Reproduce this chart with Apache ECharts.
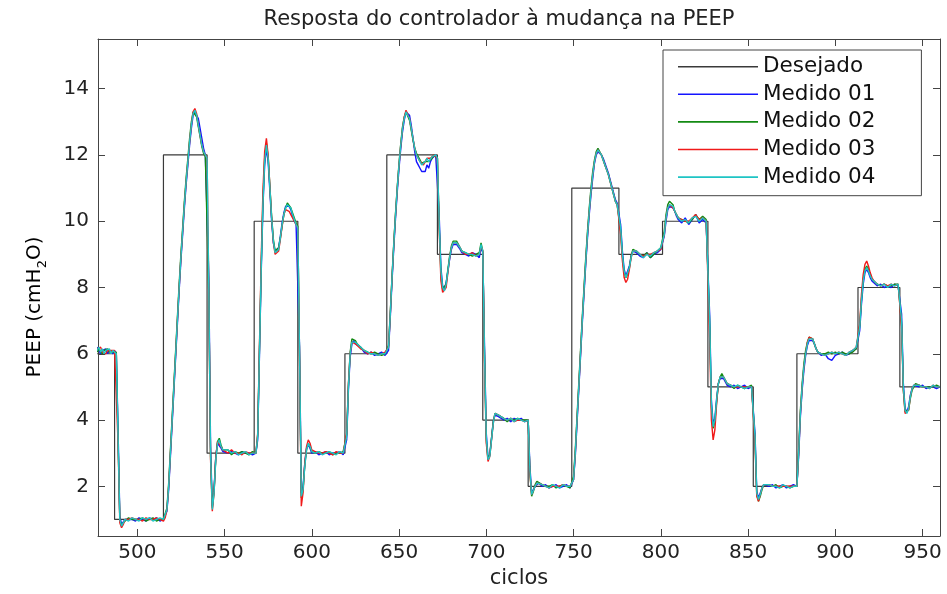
<!DOCTYPE html>
<html><head><meta charset="utf-8">
<script src="https://cdn.jsdelivr.net/npm/echarts@6/dist/echarts.min.js"></script>
<style>html,body{margin:0;padding:0;background:#fff}#c{width:947px;height:594px}</style>
</head><body><div id="c"></div>
<script>
const xTicks = [500,550,600,650,700,750,800,850,900,950];
const yTicks = [2,4,6,8,10,12,14];
const seriesNames = ['Desejado','Medido 01','Medido 02','Medido 03','Medido 04'];

const stepCycles = [477,487,515,540,567,592,619,643,672,698,724,749,776,801,827,853,878,913,937,960];
const desejado   = [6,1,12,3,10,3,6,12,9,4,2,11,9,10,5,2,6,8,5,5];

const cycles = [
 477,478,479,480,481,482,483,484,485,486,487,488,
 489,490,491,492,493,495,497,499,501,503,505,507,509,511,513,515,516,
 517,518,519,520,521,522,523,524,525,526,527,528,529,530,531,532,533,534,535,536,537,538,539,540,
 541,542,543,544,545,546,547,548,549,550,552,554,556,558,560,562,564,566,568,
 569,570,571,572,573,574,575,576,577,578,579,580,581,582,583,584,585,586,587,588,589,590,591,592,
 593,594,595,596,597,598,599,600,602,604,606,608,610,612,614,616,618,619,
 620,621,622,623,624,625,626,628,630,632,634,636,638,640,642,643,
 644,645,646,647,648,649,650,651,652,653,654,655,656,657,658,659,660,661,662,663,664,665,666,667,668,669,670,671,672,
 673,674,675,676,677,678,679,680,681,682,683,684,685,686,688,690,692,694,696,697,698,
 699,700,701,702,703,704,705,706,707,708,710,712,714,716,718,720,722,724,
 725,726,727,728,729,730,732,734,736,738,740,742,744,746,748,749,
 750,751,752,753,754,755,756,757,758,759,760,761,762,763,764,765,766,767,768,769,770,771,772,773,774,775,776,
 777,778,779,780,781,782,783,784,785,786,788,790,792,794,796,798,800,801,
 802,803,804,805,806,807,808,809,810,812,814,816,818,820,822,824,826,827,
 828,829,830,831,832,833,834,835,836,837,838,840,842,844,846,848,850,852,853,
 854,855,856,857,858,859,860,862,864,866,868,870,872,874,876,878,
 879,880,881,882,883,884,885,886,887,888,889,890,892,894,896,898,900,902,904,906,908,910,912,913,
 914,915,916,917,918,919,920,921,922,924,926,928,930,932,934,936,937,
 938,939,940,941,942,943,944,945,946,948,950,952,954,956,958,960
];

const medido01 = [
 6.2,6.1,6.0,6.1,6.05,6.15,6.0,6.1,6.05,6.0,6.1,6.0,
 3.7,1.1,0.85,0.9,1.0,1.0,1.0,0.95,1.05,1.0,0.95,1.05,1.0,1.05,0.95,1.0,1.0,
 1.25,1.9,2.9,3.9,4.9,5.9,6.9,7.9,8.8,9.6,10.4,11.1,11.7,12.3,12.8,13.2,13.3,13.3,13.1,12.8,12.5,12.2,12.0,11.95,
 8.3,3.2,1.4,1.9,2.9,3.3,3.35,3.15,3.05,3.1,3.0,3.05,3.0,2.95,3.05,3.0,3.0,2.95,3.0,
 3.4,5.9,8.4,10.4,11.7,12.2,11.8,10.9,10.0,9.35,9.1,9.05,9.2,9.55,9.95,10.25,10.45,10.5,10.45,10.35,10.15,10.0,9.9,9.85,
 6.2,1.8,2.0,2.7,3.15,3.25,3.15,3.0,3.05,2.95,3.0,3.05,2.95,3.0,3.0,3.05,2.95,3.0,
 3.4,4.9,5.9,6.3,6.4,6.3,6.25,6.2,6.05,6.0,6.05,5.95,6.0,6.05,5.95,6.0,
 6.1,7.1,8.2,9.2,10.1,10.9,11.6,12.2,12.7,13.05,13.3,13.35,13.2,12.9,12.5,12.1,11.8,11.7,11.6,11.5,11.55,11.5,11.7,11.6,11.8,11.9,11.95,12.0,11.95,
 10.2,8.6,8.05,7.95,8.15,8.5,8.85,9.15,9.3,9.35,9.3,9.25,9.15,9.05,9.0,8.95,9.05,9.0,8.9,9.2,9.05,
 6.2,3.6,2.85,2.95,3.45,3.95,4.15,4.2,4.1,4.05,4.0,4.05,3.95,4.05,4.0,4.05,3.95,4.0,
 2.6,1.8,1.85,2.0,2.05,2.1,2.0,2.05,1.95,2.0,2.05,1.95,2.0,2.05,1.95,2.0,
 2.2,2.9,3.9,4.9,5.9,6.9,7.8,8.7,9.5,10.2,10.8,11.3,11.75,12.0,12.1,12.1,12.0,11.9,11.75,11.6,11.45,11.25,11.05,10.85,10.65,10.55,10.5,
 9.9,9.1,8.55,8.35,8.4,8.65,8.95,9.1,9.1,9.05,8.95,8.9,9.05,8.9,9.0,9.05,9.15,9.2,
 9.55,10.0,10.35,10.45,10.5,10.4,10.3,10.15,10.05,9.95,10.1,9.9,10.05,10.2,9.95,10.05,9.95,10.0,
 7.2,4.6,3.9,4.05,4.65,5.1,5.25,5.3,5.25,5.15,5.05,5.0,5.05,4.95,5.0,5.05,4.95,5.0,5.0,
 3.6,1.85,1.65,1.8,1.95,2.05,2.1,2.0,2.05,1.95,2.0,2.05,1.95,2.0,2.05,2.0,
 2.9,4.1,4.9,5.5,5.95,6.25,6.4,6.45,6.4,6.3,6.15,6.05,5.95,6.0,5.85,5.8,5.95,6.0,6.05,5.95,6.0,6.1,6.15,6.2,
 6.7,7.5,8.1,8.45,8.55,8.45,8.3,8.2,8.15,8.05,8.1,8.0,8.05,8.0,8.1,8.05,8.1,
 7.2,5.1,4.35,4.25,4.4,4.75,4.95,5.05,5.05,5.0,5.05,4.95,5.0,5.0,4.95,5.0
];

const medido02 = [
 6.05,6.15,6.1,6.0,6.1,6.05,6.15,6.05,6.1,6.05,6.0,6.05,
 3.4,1.0,0.8,0.9,0.95,1.05,1.0,1.0,1.0,1.05,0.95,1.0,1.05,0.95,1.0,1.0,1.0,
 1.35,2.1,3.1,4.1,5.1,6.1,7.1,8.1,9.0,9.8,10.6,11.3,11.9,12.5,13.0,13.3,13.35,13.15,12.85,12.55,12.25,12.05,11.95,11.9,
 7.8,2.9,1.35,1.85,2.85,3.35,3.45,3.25,3.1,3.05,3.1,2.95,3.05,3.0,3.05,3.0,2.95,3.05,3.0,
 3.55,6.1,8.6,10.6,11.9,12.35,11.95,11.05,10.15,9.45,9.1,9.05,9.2,9.5,9.85,10.2,10.4,10.55,10.55,10.4,10.25,10.1,9.95,9.85,
 5.9,1.65,1.9,2.65,3.1,3.3,3.2,3.05,3.0,3.05,3.0,3.0,3.05,2.95,3.0,3.0,3.05,3.0,
 3.55,5.05,6.05,6.45,6.45,6.4,6.3,6.2,6.1,6.05,6.0,6.05,6.0,5.95,6.0,6.0,
 6.25,7.25,8.35,9.35,10.25,11.05,11.75,12.35,12.85,13.15,13.3,13.25,13.05,12.75,12.45,12.2,12.05,11.95,11.85,11.75,11.75,11.8,11.85,11.8,11.85,11.9,12.0,12.0,11.9,
 9.9,8.4,7.95,7.9,8.1,8.55,8.95,9.25,9.4,9.45,9.4,9.3,9.2,9.1,9.05,9.0,8.95,9.0,9.05,9.35,9.1,
 5.9,3.4,2.8,2.95,3.45,3.95,4.2,4.25,4.15,4.1,4.05,3.95,4.05,4.0,4.05,4.0,4.0,4.0,
 2.4,1.7,1.85,2.05,2.15,2.1,2.05,2.0,2.0,2.05,1.95,2.0,2.05,2.0,1.95,2.0,
 2.3,3.1,4.1,5.1,6.1,7.1,8.0,8.9,9.7,10.4,11.0,11.5,11.85,12.1,12.2,12.15,12.0,11.85,11.7,11.55,11.4,11.2,11.0,10.8,10.6,10.5,10.5,
 9.7,8.95,8.45,8.3,8.4,8.6,8.95,9.15,9.2,9.1,9.0,8.95,9.05,8.9,9.0,9.1,9.2,9.2,
 9.7,10.2,10.5,10.6,10.6,10.5,10.3,10.2,10.1,10.05,10.0,9.95,10.05,10.2,10.05,10.15,10.05,10.0,
 6.9,4.4,3.75,3.95,4.55,5.1,5.3,5.4,5.3,5.2,5.1,5.05,4.95,5.05,5.0,4.95,5.0,5.05,5.0,
 3.4,1.75,1.55,1.7,1.9,2.05,2.1,2.05,2.0,2.05,1.95,2.0,2.0,1.95,2.0,2.0,
 3.1,4.3,5.1,5.7,6.1,6.35,6.5,6.55,6.45,6.3,6.15,6.05,6.0,6.0,6.05,6.0,6.05,6.0,6.05,6.0,6.0,6.05,6.15,6.2,
 6.85,7.65,8.25,8.55,8.65,8.55,8.4,8.25,8.2,8.1,8.05,8.1,8.05,8.05,8.1,8.1,8.1,
 6.9,4.9,4.25,4.2,4.3,4.65,4.9,5.0,5.1,5.05,5.0,5.0,5.0,5.0,5.05,5.0
];

const medido03 = [
 6.15,6.1,6.2,6.05,6.1,6.0,6.1,6.05,6.1,6.05,6.1,6.05,
 3.3,0.9,0.75,0.85,1.0,1.0,1.05,1.0,1.0,0.95,1.05,1.0,1.0,1.05,1.0,0.95,1.05,
 1.3,2.0,3.0,4.0,5.0,6.0,7.0,8.0,8.9,9.7,10.5,11.2,11.8,12.4,12.9,13.3,13.4,13.25,12.9,12.6,12.3,12.1,12.0,11.9,
 7.9,2.8,1.25,1.8,2.9,3.35,3.4,3.2,3.1,3.05,3.0,3.1,3.0,3.0,2.95,3.05,3.0,3.0,3.0,
 3.6,6.2,8.8,10.9,12.1,12.5,12.0,11.05,10.1,9.35,9.0,8.95,9.1,9.45,9.85,10.2,10.35,10.4,10.3,10.2,10.1,10.0,9.9,9.8,
 5.8,1.4,1.8,2.7,3.2,3.4,3.3,3.1,3.05,3.0,3.0,3.05,3.0,2.95,3.05,3.0,3.0,3.0,
 3.6,5.1,6.0,6.35,6.4,6.3,6.3,6.15,6.1,6.0,6.05,6.0,5.95,6.0,6.05,6.0,
 6.2,7.2,8.3,9.3,10.2,11.0,11.7,12.3,12.8,13.15,13.35,13.3,13.1,12.8,12.5,12.2,12.0,11.9,11.8,11.75,11.7,11.8,11.9,11.85,11.9,11.95,12.0,12.0,11.9,
 9.8,8.2,7.85,7.8,8.0,8.45,8.9,9.2,9.35,9.4,9.35,9.3,9.2,9.1,9.0,9.0,9.05,8.95,9.0,9.25,9.1,
 5.8,3.3,2.75,2.9,3.4,3.9,4.2,4.2,4.15,4.1,4.05,4.0,4.05,3.95,4.0,4.0,3.95,4.0,
 2.4,1.75,1.8,2.0,2.1,2.1,2.05,2.0,1.95,2.0,2.0,2.0,2.05,2.0,2.0,2.0,
 2.2,3.0,4.0,5.0,6.0,7.0,7.9,8.8,9.6,10.3,10.9,11.4,11.8,12.05,12.15,12.1,12.0,11.85,11.7,11.55,11.4,11.2,11.0,10.8,10.6,10.5,10.5,
 9.6,8.8,8.3,8.15,8.25,8.55,8.9,9.1,9.15,9.1,9.0,8.95,9.0,9.0,9.05,9.1,9.15,9.2,
 9.6,10.1,10.4,10.5,10.5,10.4,10.3,10.2,10.1,10.05,10.0,10.0,10.1,10.2,10.05,10.1,10.0,10.0,
 6.5,4.0,3.4,3.7,4.5,5.1,5.3,5.35,5.3,5.2,5.1,5.05,5.0,5.0,5.0,5.0,5.0,5.0,5.0,
 3.3,1.7,1.55,1.75,1.95,2.05,2.1,2.05,2.0,2.0,2.0,2.0,2.0,2.0,2.0,2.0,
 3.0,4.2,5.0,5.6,6.0,6.35,6.5,6.5,6.45,6.3,6.15,6.05,6.0,5.95,6.0,6.05,6.0,6.05,6.0,5.95,6.05,6.1,6.2,6.2,
 6.9,7.8,8.4,8.7,8.8,8.65,8.45,8.3,8.2,8.1,8.05,8.1,8.05,8.1,8.05,8.1,8.1,
 6.8,4.9,4.2,4.15,4.3,4.7,4.95,5.05,5.1,5.05,5.0,5.0,4.95,5.05,5.0,5.0
];

const medido04 = [
 6.1,6.2,6.05,6.15,6.0,6.1,6.05,6.15,6.0,6.1,6.05,6.0,
 3.5,1.0,0.8,0.85,1.0,0.95,1.05,1.0,0.95,1.05,1.0,1.05,0.95,1.0,1.05,1.0,1.05,
 1.3,2.0,3.0,4.0,5.0,6.0,7.0,8.0,8.9,9.7,10.5,11.2,11.8,12.4,12.9,13.25,13.35,13.2,12.9,12.6,12.3,12.1,12.0,11.9,
 8.0,3.0,1.3,1.8,2.8,3.3,3.4,3.2,3.1,3.05,3.1,3.0,3.05,2.95,3.0,3.05,2.95,3.0,3.0,
 3.5,6.0,8.5,10.5,11.8,12.3,11.9,11.0,10.1,9.4,9.05,9.0,9.15,9.5,9.9,10.2,10.4,10.5,10.5,10.4,10.2,10.05,9.9,9.8,
 6.0,1.7,1.9,2.6,3.1,3.3,3.2,3.05,3.0,3.05,2.95,3.0,3.05,3.0,2.95,3.05,3.0,3.0,
 3.5,5.0,6.0,6.35,6.4,6.35,6.3,6.2,6.1,6.05,6.0,6.0,5.95,6.0,6.0,6.0,
 6.2,7.2,8.3,9.3,10.2,11.0,11.7,12.3,12.8,13.1,13.3,13.3,13.1,12.8,12.5,12.2,12.0,11.9,11.8,11.7,11.7,11.8,11.9,11.8,11.85,11.95,12.0,12.0,11.9,
 10.0,8.5,8.0,7.9,8.1,8.5,8.9,9.2,9.35,9.4,9.35,9.3,9.2,9.1,9.05,9.0,9.0,8.95,9.0,9.3,9.1,
 6.0,3.5,2.8,2.9,3.4,3.9,4.2,4.2,4.15,4.1,4.05,4.0,4.05,3.95,4.05,4.0,3.95,4.0,
 2.5,1.75,1.8,2.0,2.1,2.1,2.05,2.0,1.95,2.05,2.0,1.95,2.05,2.0,2.0,2.0,
 2.2,3.0,4.0,5.0,6.0,7.0,7.9,8.8,9.6,10.3,10.9,11.4,11.8,12.05,12.15,12.1,12.0,11.85,11.7,11.55,11.4,11.2,11.0,10.8,10.6,10.5,10.5,
 9.8,9.0,8.5,8.3,8.35,8.6,8.9,9.1,9.15,9.1,9.0,8.9,9.0,8.95,9.05,9.1,9.2,9.2,
 9.6,10.1,10.4,10.5,10.55,10.45,10.3,10.2,10.1,10.0,10.05,9.95,10.1,10.15,10.0,10.1,10.0,10.0,
 7.0,4.5,3.8,4.0,4.6,5.1,5.3,5.35,5.3,5.2,5.1,5.05,5.0,5.05,5.0,4.95,5.0,5.0,5.0,
 3.5,1.8,1.6,1.75,1.95,2.05,2.1,2.05,2.0,2.0,1.95,2.05,2.0,1.95,2.0,2.0,
 3.0,4.2,5.0,5.6,6.0,6.3,6.45,6.5,6.45,6.3,6.15,6.05,6.0,5.95,6.0,6.05,6.0,6.05,6.0,5.95,6.05,6.1,6.2,6.2,
 6.8,7.6,8.2,8.5,8.6,8.5,8.35,8.25,8.2,8.1,8.05,8.1,8.0,8.1,8.05,8.1,8.1,
 7.0,5.0,4.3,4.2,4.35,4.7,4.95,5.05,5.1,5.05,5.0,5.0,4.95,5.05,5.0,5.0
];

const colors = ['#3a3a3a','#1414ff','#138a13','#f01a1a','#1ec4c4'];
const FONT = 'DejaVu Sans';

const pairs = (xs, ys) => xs.map((x, i) => [x, ys[i]]);
const measured = [medido01, medido02, medido03, medido04];

const chart = echarts.init(document.getElementById('c'), null, {renderer: 'canvas'});

const axisCommon = {
  type: 'value',
  splitLine: {show: false},
  axisLine: {show: true, onZero: false, lineStyle: {color: '#444', width: 1}},
  axisTick: {show: true, inside: true, length: 7, lineStyle: {color: '#444', width: 1}}
};

const series = [{
  name: seriesNames[0], type: 'line', step: 'end', data: pairs(stepCycles, desejado),
  showSymbol: false, symbol: 'none', color: colors[0],
  lineStyle: {color: colors[0], width: 1.2}, z: 2
}];
measured.forEach((arr, k) => {
  series.push({
    name: seriesNames[k + 1], type: 'line', data: pairs(cycles, arr),
    showSymbol: false, symbol: 'none', color: colors[k + 1],
    lineStyle: {color: colors[k + 1], width: 1.4}, z: 3 + k
  });
});

chart.setOption({
  animation: false,
  backgroundColor: '#fff',
  color: colors,
  title: {
    text: 'Resposta do controlador à mudança na PEEP',
    left: 494, textAlign: 'center', top: 4,
    textStyle: {fontFamily: FONT, fontSize: 21, fontWeight: 'normal', color: '#222'}
  },
  grid: {left: 98, right: 7, top: 39, bottom: 53, containLabel: false},
  legend: {
    orient: 'vertical', left: 663, top: 50,
    data: seriesNames.map(n => ({name: n, icon: 'rect'})),
    itemWidth: 80, itemHeight: 1.6, itemGap: 5.6, itemTextGap: 10,
    padding: [5.7, 46, 7.6, 15],
    borderColor: '#444', borderWidth: 1, backgroundColor: '#fff',
    selectedMode: false,
    textStyle: {fontFamily: FONT, fontSize: 21.5, lineHeight: 22, color: '#111'}
  },
  xAxis: [
    Object.assign({}, axisCommon, {
      min: 477.5, max: 960, position: 'bottom',
      axisTick: Object.assign({}, axisCommon.axisTick, {customValues: xTicks}),
      axisLabel: {customValues: xTicks, fontFamily: FONT, fontSize: 20, color: '#222', margin: 7},
      name: 'ciclos', nameLocation: 'middle', nameGap: 32,
      nameTextStyle: {fontFamily: FONT, fontSize: 21, color: '#222'}
    }),
    Object.assign({}, axisCommon, {
      min: 477.5, max: 960, position: 'top',
      axisTick: Object.assign({}, axisCommon.axisTick, {customValues: xTicks}),
      axisLabel: {show: false}
    })
  ],
  yAxis: [
    Object.assign({}, axisCommon, {
      min: 0.5, max: 15.5, position: 'left',
      axisTick: Object.assign({}, axisCommon.axisTick, {customValues: yTicks}),
      axisLabel: {customValues: yTicks, fontFamily: FONT, fontSize: 20, color: '#222', margin: 9}
    }),
    Object.assign({}, axisCommon, {
      min: 0.5, max: 15.5, position: 'right',
      axisTick: Object.assign({}, axisCommon.axisTick, {customValues: yTicks}),
      axisLabel: {show: false}
    })
  ],
  graphic: [{
    type: 'text', x: 37, y: 307, rotation: Math.PI / 2,
    style: {
      text: '{a|PEEP (cmH}{s|2}{a|O)}',
      align: 'center', verticalAlign: 'middle',
      rich: {
        a: {fontFamily: FONT, fontSize: 20, color: '#222', verticalAlign: 'top', lineHeight: 22},
        s: {fontFamily: FONT, fontSize: 13, color: '#222', verticalAlign: 'bottom', padding: [11, 0, 0, 0]}
      }
    }
  }],
  series: series
});
</script>
</body></html>
